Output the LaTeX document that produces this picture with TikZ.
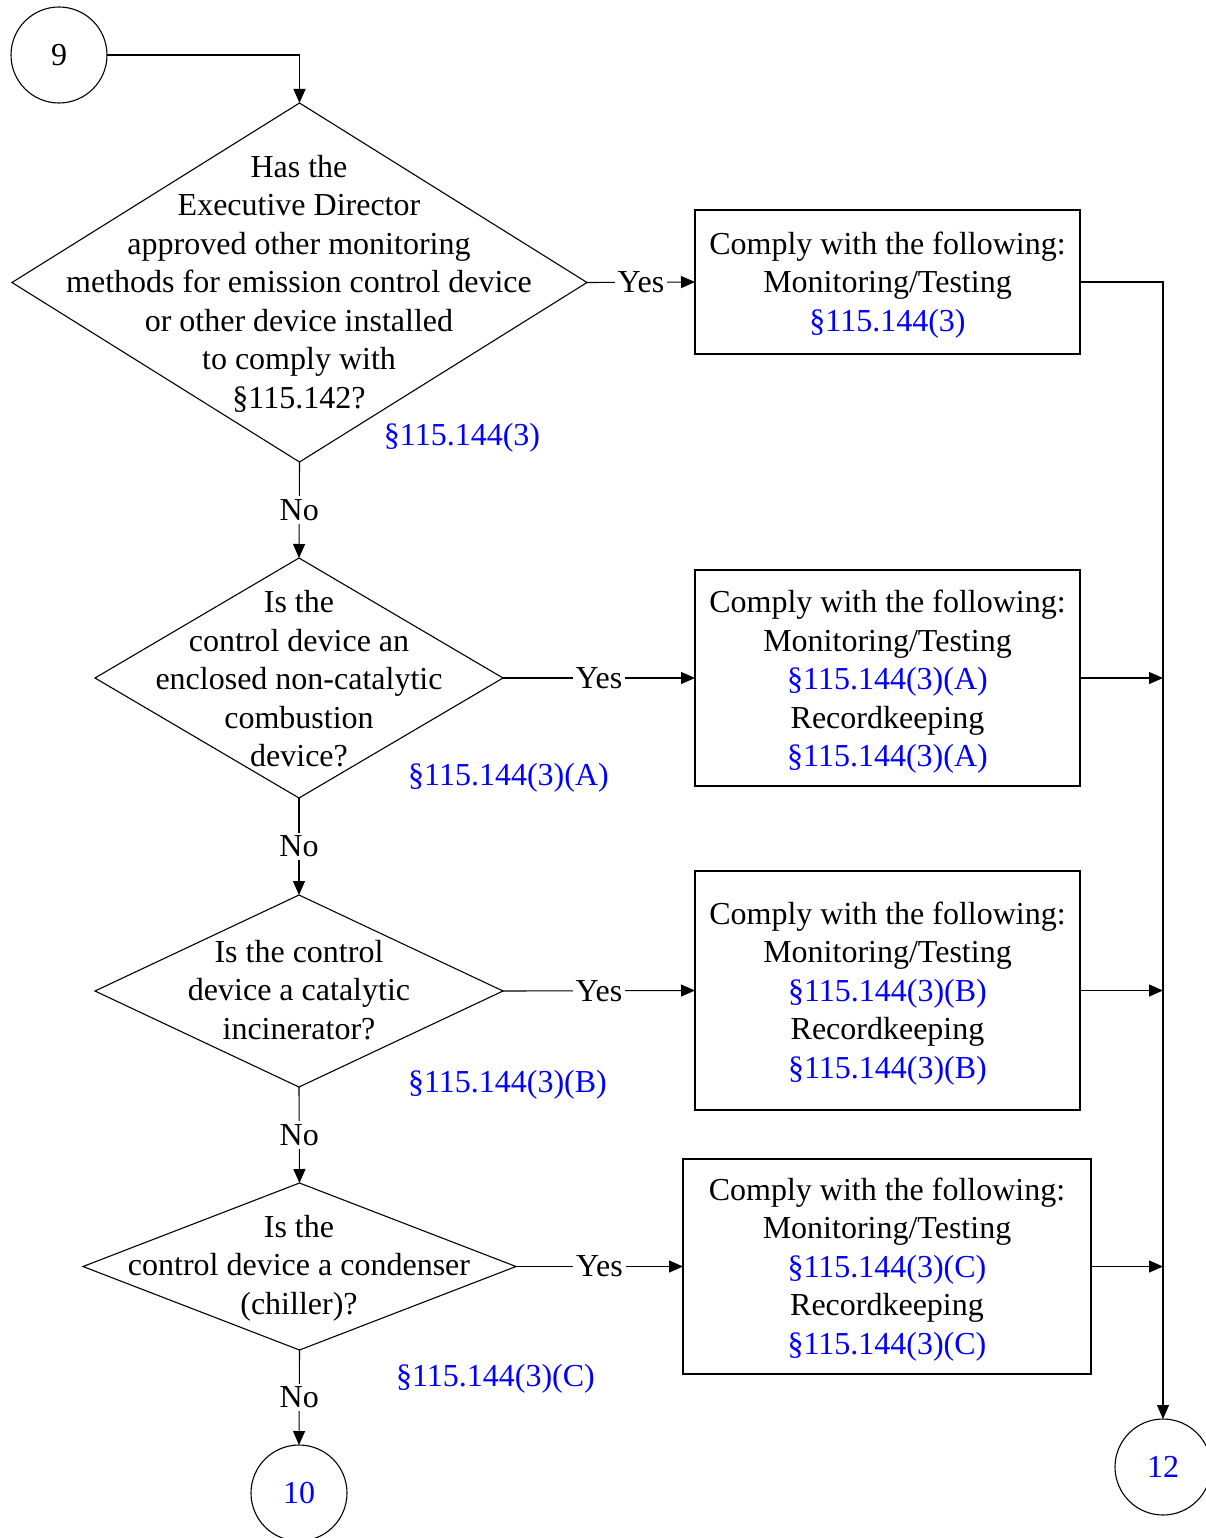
\documentclass[tikz,border=0pt]{standalone}
\usepackage{fontspec}
\setmainfont{Liberation Serif}
\usetikzlibrary{shapes.geometric,arrows.meta}
\begin{document}
\begin{tikzpicture}[x=1pt,y=-1pt,
  every node/.style={font=\fontsize{32}{38.5}\selectfont},
  dia/.style={draw,diamond,inner sep=0pt,outer sep=0pt},
  box/.style={draw,rectangle,inner sep=0pt,outer sep=0pt},
  conn/.style={draw,circle,minimum size=96pt,inner sep=0pt,outer sep=0pt},
  txt/.style={align=center,inner sep=0pt},
  ref/.style={text=blue,inner sep=0pt},
  lbl/.style={fill=white,inner sep=3pt},
  arr/.style={-{Triangle[length=14pt,width=12pt]}},
  line width=1.1pt]
\useasboundingbox (0,0) rectangle (1206,1538);

% connectors (circles)
\node[conn] (c9) at (59,55) {9};
\node[conn,text=blue] (c12) at (1163,1467) {12};
\node[conn,text=blue] (c10) at (299,1493) {10};

% diamonds
\node[dia,minimum width=575pt,minimum height=359pt] (d1) at (299.5,282.5) {};
\node[txt] (t1) at (299,283.5) {Has the\\Executive Director\\approved other monitoring\\methods for emission control device\\or other device installed\\to comply with\\§115.142?};
\node[dia,minimum width=408pt,minimum height=240pt] (d2) at (299,678) {};
\node[txt] (t2) at (299,679) {Is the\\control device an\\enclosed non-catalytic\\combustion\\device?};
\node[dia,minimum width=408pt,minimum height=192pt] (d3) at (299,991) {};
\node[txt] (t3) at (299,990) {Is the control\\device a catalytic\\incinerator?};
\node[dia,minimum width=433pt,minimum height=167pt] (d4) at (299.5,1266.5) {};
\node[txt] (t4) at (299,1268) {Is the\\control device a condenser\\(chiller)?};

% reference labels
\node[ref] (r1) at (462,438) {§115.144(3)};
\node[ref] (r2) at (508.5,778) {§115.144(3)(A)};
\node[ref] (r3) at (507.5,1085) {§115.144(3)(B)};
\node[ref] (r4) at (495.5,1379) {§115.144(3)(C)};

% boxes
\node[box,minimum width=385pt,minimum height=144pt] (b1) at (887.5,282) {};
\node[txt] (bt1) at (887.5,285) {Comply with the following:\\Monitoring/Testing\\\textcolor{blue}{§115.144(3)}};
\node[box,minimum width=385pt,minimum height=216pt] (b2) at (887.5,678) {};
\node[txt] (bt2) at (887.5,682) {Comply with the following:\\Monitoring/Testing\\\textcolor{blue}{§115.144(3)(A)}\\Recordkeeping\\\textcolor{blue}{§115.144(3)(A)}};
\node[box,minimum width=385pt,minimum height=239pt] (b3) at (887.5,990.5) {};
\node[txt] (bt3) at (887.5,993.5) {Comply with the following:\\Monitoring/Testing\\\textcolor{blue}{§115.144(3)(B)}\\Recordkeeping\\\textcolor{blue}{§115.144(3)(B)}};
\node[box,minimum width=408pt,minimum height=215pt] (b4) at (887,1266.5) {};
\node[txt] (bt4) at (887,1269.5) {Comply with the following:\\Monitoring/Testing\\\textcolor{blue}{§115.144(3)(C)}\\Recordkeeping\\\textcolor{blue}{§115.144(3)(C)}};

\coordinate (vtop) at (1163,282);

% edges
\draw[arr] (c9.east) -| (d1.north);
\draw[arr] (d1.east) -- node[lbl]{Yes} (b1.west);
\draw[arr] (d2.east) -- node[lbl]{Yes} (b2.west);
\draw[arr] (d3.east) -- node[lbl]{Yes} (b3.west);
\draw[arr] (d4.east) -- node[lbl]{Yes} (b4.west);
\draw[arr] (d1.south) -- node[lbl]{No} (d2.north);
\draw[arr] (d2.south) -- node[lbl]{No} (d3.north);
\draw[arr] (d3.south) -- node[lbl]{No} (d4.north);
\draw[arr] (d4.south) -- node[lbl]{No} (c10.north);
\draw[arr] (b1.east) -- (vtop) -- (c12.north);
\draw[arr] (b2.east) -- (b2.east -| vtop);
\draw[arr] (b3.east) -- (b3.east -| vtop);
\draw[arr] (b4.east) -- (b4.east -| vtop);
\end{tikzpicture}
\end{document}
